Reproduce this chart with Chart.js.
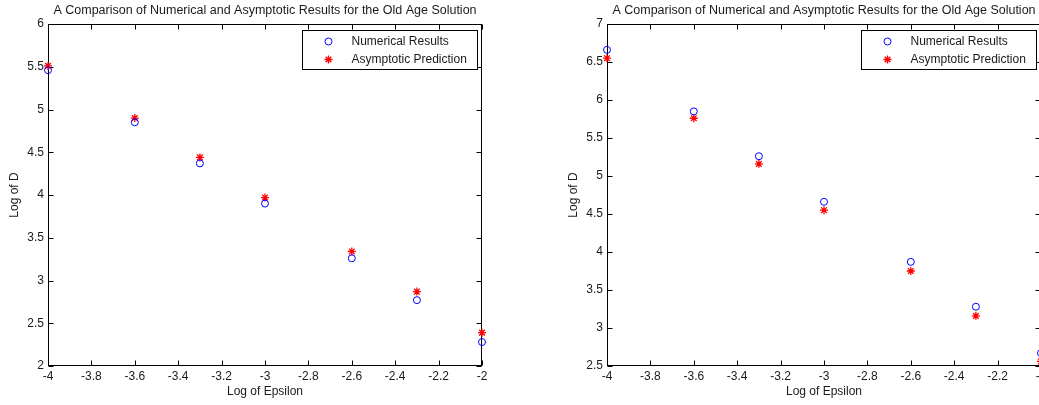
<!DOCTYPE html>
<html>
<head>
<meta charset="utf-8">
<script src="https://cdn.jsdelivr.net/npm/chart.js@4.4.0/dist/chart.umd.min.js"></script>
<style>
  html, body { margin: 0; padding: 0; background: #fff; overflow: hidden; width: 1039px; height: 405px; }
  .box { position: absolute; top: 0; width: 520px; height: 405px; }
</style>
</head>
<body>
<div class="box" style="left:0"><canvas id="leftChart" width="520" height="405"></canvas></div>
<div class="box" style="left:559px"><canvas id="rightChart" width="520" height="405"></canvas></div>
<script>
// values
const logEpsilon = [-4, -3.6, -3.3, -3, -2.6, -2.3, -2];
const numericalLeft = [5.46, 4.85, 4.37, 3.90, 3.26, 2.77, 2.28];
const asymptoticLeft = [5.51, 4.90, 4.44, 3.97, 3.34, 2.87, 2.39];
const numericalRight = [6.66, 5.85, 5.26, 4.66, 3.87, 3.28, 2.67];
const asymptoticRight = [6.55, 5.76, 5.16, 4.55, 3.75, 3.16, 2.56];

const xTicks = [-4, -3.8, -3.6, -3.4, -3.2, -3, -2.8, -2.6, -2.4, -2.2, -2];
const yTicksLeft = [2, 2.5, 3, 3.5, 4, 4.5, 5, 5.5, 6];
const yTicksRight = [2.5, 3, 3.5, 4, 4.5, 5, 5.5, 6, 6.5, 7];

const titleText = "A Comparison of Numerical and Asymptotic Results for the Old Age Solution";
const seriesNames = ["Numerical Results", "Asymptotic Prediction"];

const FONT = "'Liberation Sans', Arial, sans-serif";
const TEXT = "#1a1a1a";

// MATLAB style box with inward ticks
const frame = {
  id: "frame",
  beforeDatasetsDraw(chart) {
    const { ctx, chartArea: a, scales: { x, y } } = chart;
    const l = Math.round(a.left) + 0.5, r = Math.round(a.right) - 0.5;
    const t = Math.round(a.top) + 0.5, b = Math.round(a.bottom) - 0.5;
    ctx.save();
    ctx.strokeStyle = "#000";
    ctx.lineWidth = 1;
    ctx.strokeRect(l, t, r - l, b - t);
    ctx.beginPath();
    x.ticks.forEach(tk => {
      const px = Math.round(x.getPixelForValue(tk.value)) + 0.5;
      ctx.moveTo(px, b); ctx.lineTo(px, b - 5);
      ctx.moveTo(px, t); ctx.lineTo(px, t + 5);
    });
    y.ticks.forEach(tk => {
      const py = Math.round(y.getPixelForValue(tk.value)) + 0.5;
      ctx.moveTo(l, py); ctx.lineTo(l + 5, py);
      ctx.moveTo(r, py); ctx.lineTo(r - 5, py);
    });
    ctx.stroke();
    ctx.restore();
  }
};

// legend box inside the axes, top right
const insideLegend = {
  id: "insideLegend",
  afterDatasetsDraw(chart) {
    const { ctx, chartArea: a } = chart;
    const left = Math.round(a.right) - 180 + 0.5;
    const top = Math.round(a.top) + 6 + 0.5;
    ctx.save();
    ctx.fillStyle = "#fff";
    ctx.fillRect(left, top, 175, 39);
    ctx.strokeStyle = "#000";
    ctx.lineWidth = 1;
    ctx.strokeRect(left, top, 175, 39);
    chart.data.datasets.forEach((ds, i) => {
      const cy = top + 11 + i * 18;
      ctx.strokeStyle = ds.borderColor;
      ctx.lineWidth = ds.borderWidth;
      Chart.helpers.drawPoint(ctx, { pointStyle: ds.pointStyle, radius: ds.pointRadius, rotation: 0, borderWidth: ds.borderWidth }, left + 26, cy);
      ctx.fillStyle = TEXT;
      ctx.font = "12px " + FONT;
      ctx.textBaseline = "middle";
      ctx.textAlign = "left";
      ctx.fillText(ds.label, left + 49, cy);
    });
    ctx.restore();
  }
};

function makeChart(id, numerical, asymptotic, yTicks) {
  return new Chart(document.getElementById(id), {
    type: "scatter",
    data: {
      datasets: [
        {
          label: seriesNames[0],
          data: logEpsilon.map((x, i) => ({ x: x, y: numerical[i] })),
          pointStyle: "circle",
          pointRadius: 3.5,
          borderColor: "#0000ff",
          backgroundColor: "rgba(0,0,0,0)",
          borderWidth: 1,
          clip: false,
        },
        {
          label: seriesNames[1],
          data: logEpsilon.map((x, i) => ({ x: x, y: asymptotic[i] })),
          pointStyle: "star",
          pointRadius: 4,
          borderColor: "#ff0000",
          backgroundColor: "#ff0000",
          borderWidth: 1.3,
          clip: false,
        },
      ],
    },
    options: {
      responsive: false,
      animation: false,
      events: [],
      layout: { padding: { left: 0, right: 38, top: 0, bottom: 0 } },
      plugins: {
        legend: { display: false },
        tooltip: { enabled: false },
        title: {
          display: true,
          text: titleText,
          fullSize: false,
          color: TEXT,
          font: { family: FONT, size: 12.5, weight: "normal", lineHeight: 1.2 },
          padding: { top: 3, bottom: 6 },
        },
      },
      scales: {
        x: {
          type: "linear",
          min: xTicks[0],
          max: xTicks[xTicks.length - 1],
          afterBuildTicks: s => { s.ticks = xTicks.map(v => ({ value: v })); },
          afterFit: s => { s.height = 39; },
          grid: { display: false, drawTicks: false },
          border: { display: false },
          ticks: {
            callback: v => String(v),
            color: TEXT,
            font: { family: FONT, size: 12 },
            padding: 3,
            maxRotation: 0,
            autoSkip: false,
          },
          title: {
            display: true,
            text: "Log of Epsilon",
            color: TEXT,
            font: { family: FONT, size: 12 },
            padding: { top: 0, bottom: 6 },
          },
        },
        y: {
          type: "linear",
          min: yTicks[0],
          max: yTicks[yTicks.length - 1],
          afterBuildTicks: s => { s.ticks = yTicks.map(v => ({ value: v })); },
          afterFit: s => { s.width = 48; },
          grid: { display: false, drawTicks: false },
          border: { display: false },
          ticks: {
            callback: v => String(v),
            color: TEXT,
            font: { family: FONT, size: 12 },
            padding: 4,
            autoSkip: false,
          },
          title: {
            display: true,
            text: "Log of D",
            color: TEXT,
            font: { family: FONT, size: 12 },
            padding: { top: 7, bottom: 0 },
          },
        },
      },
    },
    plugins: [frame, insideLegend],
  });
}

makeChart("leftChart", numericalLeft, asymptoticLeft, yTicksLeft);
makeChart("rightChart", numericalRight, asymptoticRight, yTicksRight);
</script>
</body>
</html>
